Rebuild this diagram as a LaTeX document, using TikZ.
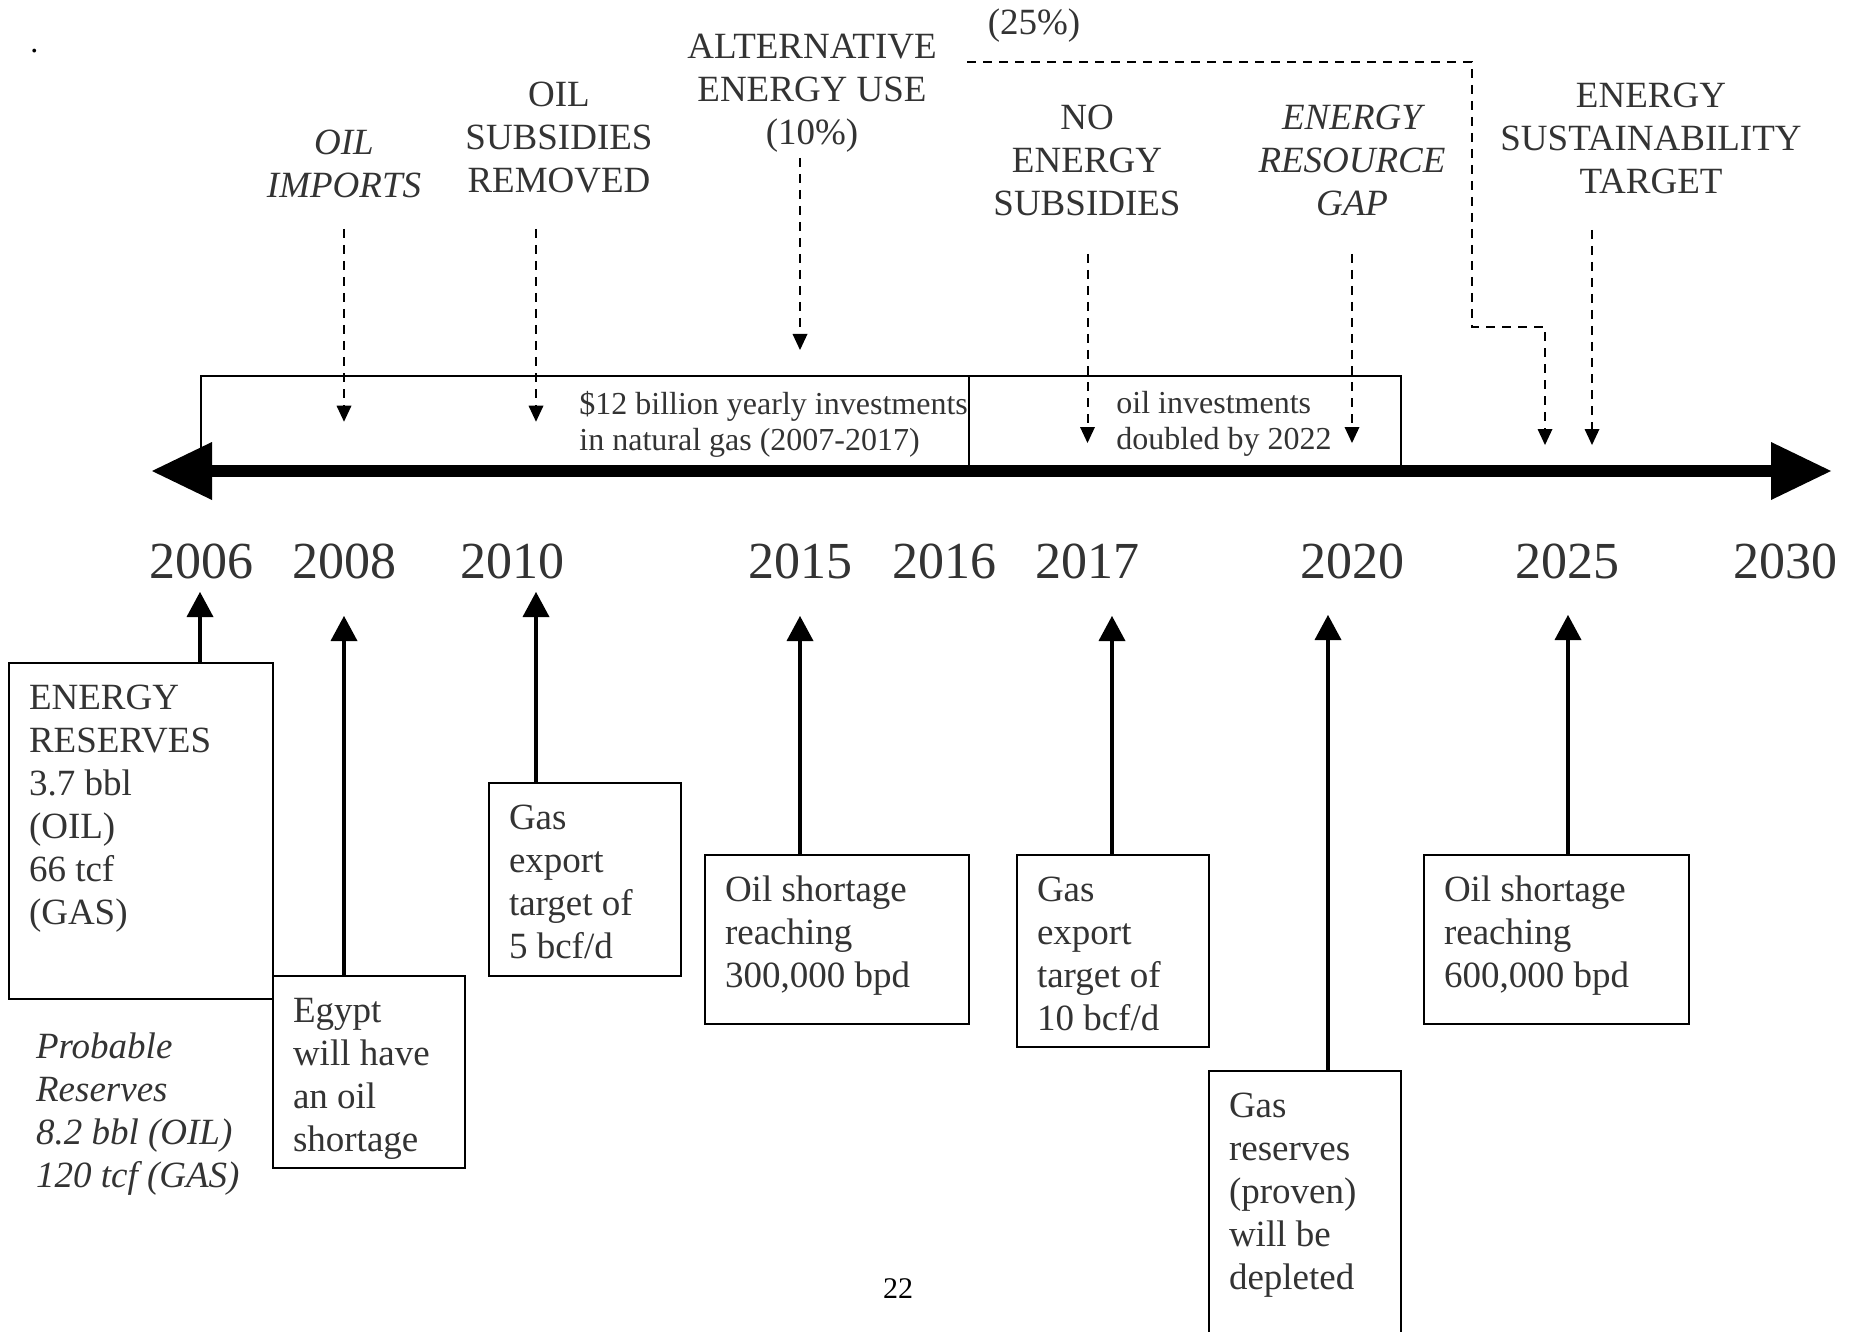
\documentclass[tikz,border=0pt]{standalone}
\usepackage{fontspec}
\setmainfont{Liberation Serif}
\usetikzlibrary{arrows.meta}
\definecolor{txt}{rgb}{0.2,0.2,0.2}
\newcommand\mystack[2][l]{\begin{tabular}[t]{@{}#1@{}}#2\end{tabular}}
\newcommand\boxtext[2]{\makebox[#1][l]{\mystack{#2}}}
\begin{document}
\begin{tikzpicture}[x=0.5pt,y=-0.5pt,
  lbl/.style={font=\fontsize{18.5pt}{21.5pt}\selectfont, text=txt, inner sep=0pt},
  ital/.style={font=\fontsize{18.5pt}{21.5pt}\selectfont\itshape},
  toplbl/.style={lbl, anchor=base},
  evbox/.style={lbl, draw=black, line width=1pt, anchor=north west,
    inner xsep=10pt, inner ysep=0pt, text height=23pt},
  invbox/.style={draw=black, line width=1pt, anchor=north west, inner sep=0pt},
  invtxt/.style={font=\fontsize{16pt}{18pt}\selectfont, text=txt, inner sep=0pt, anchor=base west},
  year/.style={font=\fontsize{26pt}{30pt}\selectfont, text=txt, inner sep=0pt, anchor=base},
  uparrow/.style={line width=2.25pt, -{Triangle[width=13.5pt,length=12.5pt,line width=0pt]}},
  dasharrow/.style={line width=1pt, dash pattern=on 4.5pt off 3.5pt,
    -{Triangle[width=7.5pt,length=8pt,line width=0pt]}},
  timeline/.style={line width=5.75pt,
    {Triangle[width=29pt,length=30pt,line width=0pt]}-{Triangle[width=29pt,length=30pt,line width=0pt]}}
]
\useasboundingbox (0,0) rectangle (1864,1332);

% stray dot
\node[anchor=base west, font=\fontsize{16pt}{18pt}\selectfont, inner sep=0pt] (dot) at (30,52.5) {.};

% investment boxes
\node[invbox, minimum width=384pt, minimum height=45.25pt] (inv1) at (200,374.5) {};
\node[invbox, minimum width=216pt, minimum height=45.25pt] (inv2) at (968,374.5) {};
\node[invtxt] (inv1t) at (579,415) {\mystack{\$12 billion yearly investments\\in natural gas (2007-2017)}};
\node[invtxt] (inv2t) at (1116,413.5) {\mystack{oil investments\\doubled by 2022}};

% timeline
\coordinate (tlL) at (152,471);
\coordinate (tlR) at (1831,471);
\draw[timeline] (tlL) -- (tlR);

% years
\node[year] (y2006) at (201,578) {2006};
\node[year] (y2008) at (344,578) {2008};
\node[year] (y2010) at (512,578) {2010};
\node[year] (y2015) at (800,578) {2015};
\node[year] (y2016) at (944,578) {2016};
\node[year] (y2017) at (1087,578) {2017};
\node[year] (y2020) at (1352,578) {2020};
\node[year] (y2025) at (1567,578) {2025};
\node[year] (y2030) at (1785,578) {2030};

% top labels
\node[toplbl, ital] (impT) at (344,155) {\mystack[c]{OIL\\IMPORTS}};
\node[toplbl] (subT) at (559,106.7) {\mystack[c]{OIL\\SUBSIDIES\\REMOVED}};
\node[toplbl] (altT) at (812,58.3) {\mystack[c]{ALTERNATIVE\\ENERGY USE\\(10\%)}};
\node[toplbl] (pctT) at (1034,35) {(25\%)};
\node[toplbl] (noT) at (1087,130) {\mystack[c]{NO\\ENERGY\\SUBSIDIES}};
\node[toplbl, ital] (gapT) at (1352,130) {\mystack[c]{ENERGY\\RESOURCE\\GAP}};
\node[toplbl] (susT) at (1651,107.3) {\mystack[c]{ENERGY\\SUSTAINABILITY\\TARGET}};

% dashed arrows
\coordinate (impS) at (344,229);   \coordinate (impE) at (344,421.7);
\coordinate (subS) at (536,229);   \coordinate (subE) at (536,421.7);
\coordinate (altS) at (800,158);   \coordinate (altE) at (800,350);
\coordinate (noS) at (1087.5,254); \coordinate (noE) at (1087.5,443);
\coordinate (gapS) at (1352,254);  \coordinate (gapE) at (1352,443);
\coordinate (susS) at (1592,230);  \coordinate (susE) at (1592,445);
\coordinate (pctS) at (967,62);    \coordinate (pctK) at (1472,327);
\coordinate (pctE) at (1545,445);
\draw[dasharrow] (impS) -- (impE);
\draw[dasharrow] (subS) -- (subE);
\draw[dasharrow] (altS) -- (altE);
\draw[dasharrow] (noS) -- (noE);
\draw[dasharrow] (gapS) -- (gapE);
\draw[dasharrow] (susS) -- (susE);
\draw[dasharrow] (pctS) -| (pctK) -| (pctE);

% event boxes
\node[evbox, text depth=145pt] (res) at (8,662)
  {\boxtext{112pt}{ENERGY\\RESERVES\\3.7 bbl\\(OIL)\\66 tcf\\(GAS)}};
\node[evbox, text depth=73pt] (egy) at (272,975)
  {\boxtext{76pt}{Egypt\\will have\\an oil\\shortage}};
\node[evbox, text depth=73.5pt] (gas5) at (488,782)
  {\boxtext{76pt}{Gas\\export\\target of\\5 bcf/d}};
\node[evbox, text depth=61.5pt] (oil3) at (704,854)
  {\boxtext{112pt}{Oil shortage\\reaching\\300,000 bpd}};
\node[evbox, text depth=73pt] (gas10) at (1016,854)
  {\boxtext{76pt}{Gas\\export\\target of\\10 bcf/d}};
\node[evbox, text depth=117pt] (gasres) at (1208,1070)
  {\boxtext{76pt}{Gas\\reserves\\(proven)\\will be\\depleted}};
\node[evbox, text depth=61.5pt] (oil6) at (1423,854)
  {\boxtext{112.5pt}{Oil shortage\\reaching\\600,000 bpd}};

\node[lbl, ital, anchor=base west] (prob) at (35.7,1058)
  {\mystack{Probable\\Reserves\\8.2 bbl (OIL)\\120 tcf (GAS)}};

% upward arrows
\coordinate (t06) at (200,592);
\coordinate (t08) at (344,616);
\coordinate (t10) at (536,592);
\coordinate (t15) at (800,616);
\coordinate (t17) at (1112,616);
\coordinate (t20) at (1328,615);
\coordinate (t25) at (1568,615);
\draw[uparrow] (res.north -| t06) -- (t06);
\draw[uparrow] (egy.north -| t08) -- (t08);
\draw[uparrow] (gas5.north -| t10) -- (t10);
\draw[uparrow] (oil3.north -| t15) -- (t15);
\draw[uparrow] (gas10.north -| t17) -- (t17);
\draw[uparrow] (gasres.north -| t20) -- (t20);
\draw[uparrow] (oil6.north -| t25) -- (t25);

% page number
\node[anchor=base, font=\fontsize{15pt}{18pt}\selectfont, inner sep=0pt] (pg) at (898,1298) {22};
\end{tikzpicture}
\end{document}
